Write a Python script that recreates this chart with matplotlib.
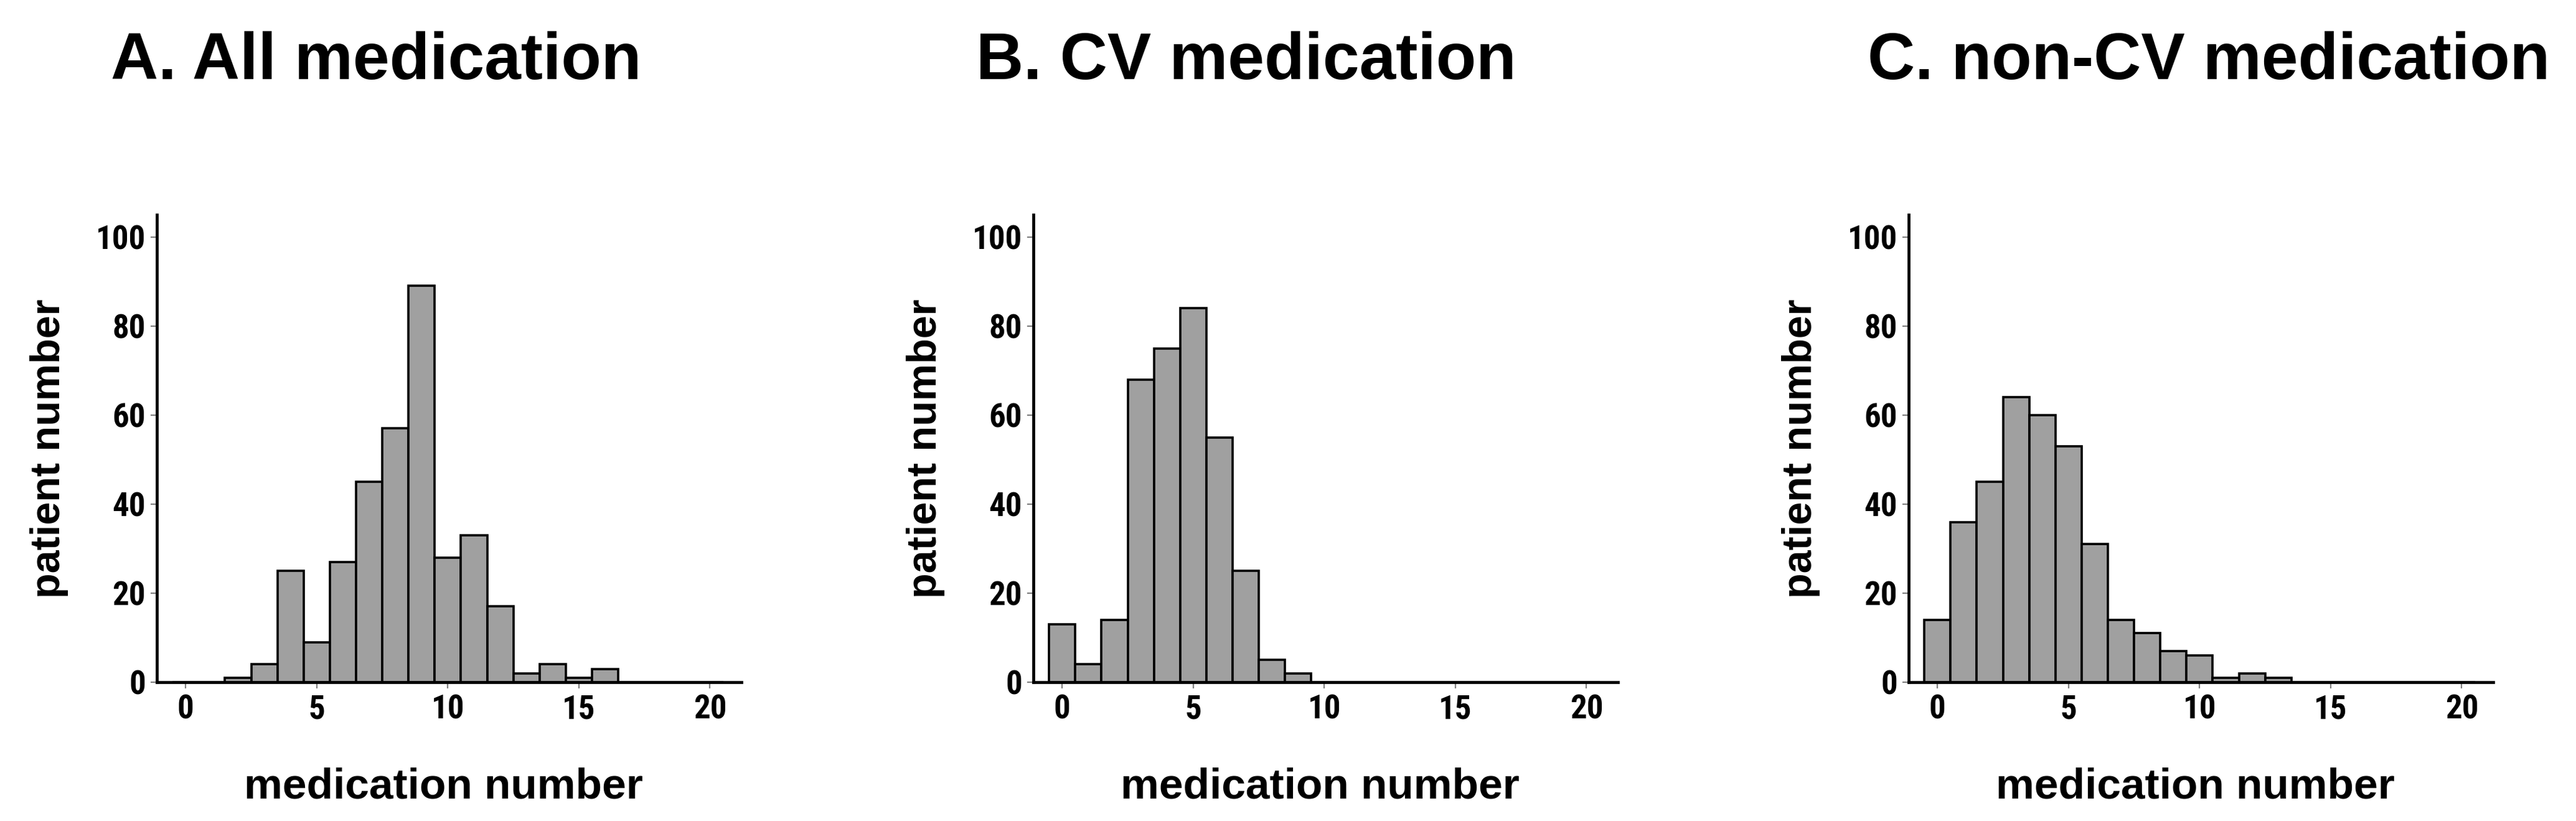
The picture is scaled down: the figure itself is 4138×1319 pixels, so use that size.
import numpy as np
import matplotlib
matplotlib.use('Agg')
import matplotlib.pyplot as plt
from matplotlib import font_manager

# medication number bins (centres) and patient counts
med_number = list(range(0, 21))
all_med = [0, 0, 1, 4, 25, 9, 27, 45, 57, 89, 28, 33, 17, 2, 4, 1, 3, 0, 0, 0, 0]
cv_med = [13, 4, 14, 68, 75, 84, 55, 25, 5, 2, 0, 0, 0, 0, 0, 0, 0, 0, 0, 0, 0]
noncv_med = [14, 36, 45, 64, 60, 53, 31, 14, 11, 7, 6, 1, 2, 1, 0, 0, 0, 0, 0, 0, 0]

titles = ['A. All medication', 'B. CV medication', 'C. non-CV medication']
xticks = [0, 5, 10, 15, 20]
yticks = [0, 20, 40, 60, 80, 100]

W, H = 4138, 1319
names = {f.name for f in font_manager.fontManager.ttflist}
tickfont = 'Liberation Sans'
for cand in ['Liberation Sans Narrow', 'Roboto Condensed', 'PT Sans Narrow']:
    if cand in names:
        tickfont = cand
        break
labelfont = 'Liberation Sans'

fig = plt.figure(figsize=(W / 100, H / 100), dpi=100)

panels = [all_med, cv_med, noncv_med]
ax_left = [252, 1660, 3066]
title_left = [178, 1568, 3000]

for i, counts in enumerate(panels):
    ax = fig.add_axes([ax_left[i] / W, (H - 1096) / H, 939 / W, 751 / H])
    ax.bar(med_number, counts, width=1.0, color='#a0a0a0',
           edgecolor='black', linewidth=2.6, zorder=2)
    ax.set_xlim(-1.1, 21.2)
    ax.set_ylim(0, 105)
    for s in ['top', 'right']:
        ax.spines[s].set_visible(False)
    for s in ['left', 'bottom']:
        ax.spines[s].set_linewidth(3.4)
        ax.spines[s].set_zorder(3)
    ax.set_xticks(xticks)
    ax.set_yticks(yticks)
    ax.tick_params(axis='both', direction='out', length=7, width=1.6,
                   color='#808080', pad=6)
    for lab in ax.get_xticklabels() + ax.get_yticklabels():
        lab.set_fontfamily(tickfont)
        lab.set_fontweight('bold')
        lab.set_fontsize(38)
    ax.set_xlabel('medication number', fontsize=50, fontweight='bold',
                  family=labelfont)
    ax.set_ylabel('patient number', fontsize=48, fontweight='bold',
                  family=labelfont)
    ax.xaxis.set_label_coords(0.49, -0.225)
    ax.yaxis.set_label_coords(-0.184, 0.5)
    ax.xaxis.label.set_va('center')
    ax.yaxis.label.set_va('center')
    fig.text(title_left[i] / W, 1 - 127 / H, titles[i], fontsize=76,
             fontweight='bold', family=labelfont, ha='left', va='baseline')

fig.savefig('out.png', dpi=100, facecolor='white')
